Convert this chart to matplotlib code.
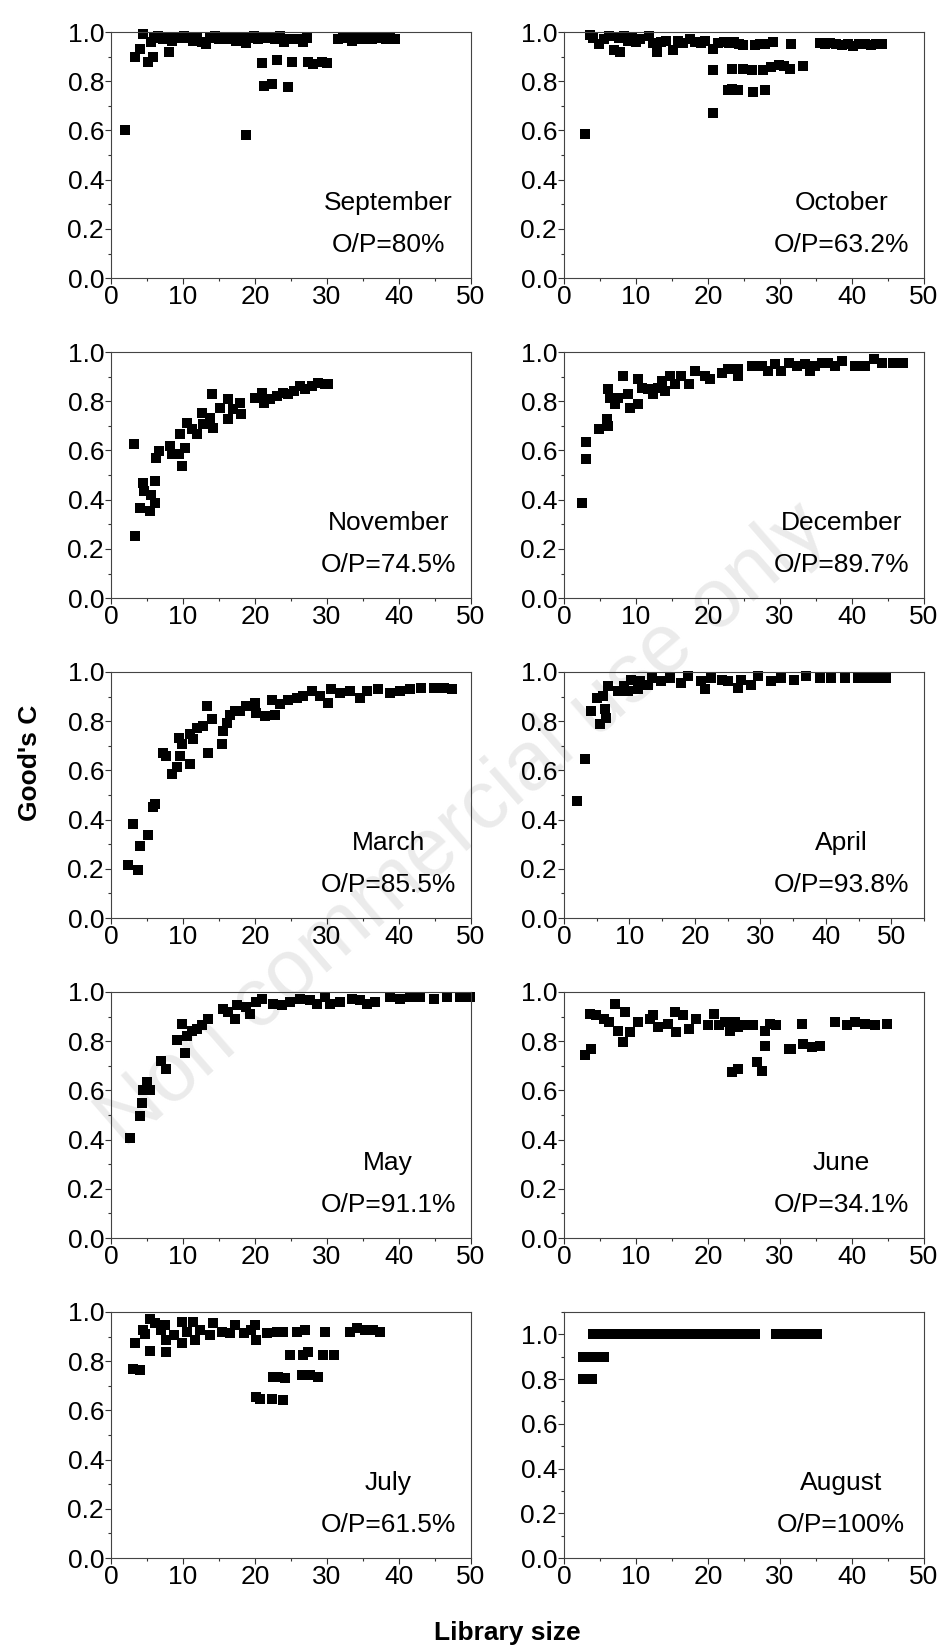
import matplotlib.pyplot as plt
from matplotlib.ticker import MultipleLocator, FormatStrFormatter

plt.rcParams['font.family'] = ['Liberation Sans', 'DejaVu Sans']

# panel order: row by row, left then right
months = ["September", "October", "November", "December", "March",
          "April", "May", "June", "July", "August"]
op_ratio = ["O/P=80%", "O/P=63.2%", "O/P=74.5%", "O/P=89.7%", "O/P=85.5%",
            "O/P=93.8%", "O/P=91.1%", "O/P=34.1%", "O/P=61.5%", "O/P=100%"]

september = [(1.9, 0.60), (3.3, 0.898), (4.0, 0.93), (4.5, 0.99), (5.2, 0.88), (5.8, 0.90),
             (5.5, 0.96), (8.0, 0.92), (18.7, 0.58), (18.7, 0.955), (20.9, 0.874), (21.2, 0.78),
             (22.3, 0.79), (23.0, 0.888), (24.6, 0.776), (25.2, 0.88), (27.4, 0.88), (28.1, 0.872),
             (29.3, 0.88), (30.0, 0.874), (6.0, 0.975), (6.5, 0.985), (7.2, 0.97), (7.8, 0.98),
             (8.5, 0.965), (9.0, 0.98), (9.6, 0.975), (10.2, 0.985), (10.8, 0.975), (11.4, 0.965),
             (12.0, 0.98), (12.6, 0.96), (13.2, 0.95), (13.8, 0.975), (14.4, 0.985), (15.0, 0.97),
             (15.6, 0.98), (16.2, 0.97), (16.8, 0.975), (17.4, 0.965), (18.0, 0.98), (19.2, 0.975),
             (19.8, 0.985), (20.4, 0.97), (21.0, 0.975), (21.6, 0.98), (22.2, 0.975), (22.8, 0.97),
             (23.4, 0.985), (24.0, 0.96), (24.6, 0.97), (26.0, 0.97), (26.6, 0.96), (27.2, 0.975),
             (31.5, 0.97), (32.2, 0.98), (32.8, 0.975), (33.5, 0.965), (34.2, 0.975), (34.8, 0.97),
             (35.5, 0.975), (36.2, 0.97), (36.8, 0.975), (37.5, 0.98), (38.2, 0.97), (38.8, 0.975),
             (39.4, 0.97)]

october = [(2.9, 0.584), (3.6, 0.986), (4.1, 0.975), (4.8, 0.95), (5.5, 0.97), (6.2, 0.985),
           (6.9, 0.926), (7.8, 0.92), (7.6, 0.975), (8.4, 0.985), (8.9, 0.965), (9.5, 0.975),
           (10.0, 0.96), (10.6, 0.97), (11.8, 0.985), (12.3, 0.955), (12.9, 0.92), (13.5, 0.96),
           (14.2, 0.965), (15.2, 0.926), (15.9, 0.965), (16.6, 0.955), (17.5, 0.973), (18.2, 0.96),
           (19.0, 0.955), (19.6, 0.962), (20.7, 0.93), (21.4, 0.955), (22.2, 0.96), (22.9, 0.955),
           (23.6, 0.958), (24.3, 0.95), (24.9, 0.946), (26.5, 0.946), (27.2, 0.95), (27.9, 0.95),
           (29.1, 0.96), (31.6, 0.953), (35.6, 0.955), (36.3, 0.95), (37.0, 0.955), (37.8, 0.95),
           (38.6, 0.948), (39.4, 0.95), (40.2, 0.945), (41.0, 0.95), (41.8, 0.952), (42.6, 0.948),
           (43.4, 0.952), (44.2, 0.95), (20.7, 0.847), (20.7, 0.672), (23.3, 0.85), (24.9, 0.85),
           (26.1, 0.845), (27.7, 0.845), (28.8, 0.858), (29.8, 0.865), (30.5, 0.86), (31.4, 0.85),
           (33.2, 0.86), (22.8, 0.764), (23.4, 0.77), (24.2, 0.764), (26.3, 0.757), (27.9, 0.764)]

november = [(3.2, 0.625), (3.3, 0.252), (4.5, 0.469), (4.6, 0.435), (4.0, 0.367), (5.4, 0.354),
            (5.6, 0.421), (6.1, 0.476), (6.1, 0.388), (6.3, 0.57), (6.6, 0.598), (8.2, 0.618),
            (8.4, 0.584), (9.4, 0.584), (9.6, 0.665), (9.8, 0.537), (10.3, 0.611), (10.5, 0.713),
            (11.2, 0.686), (11.9, 0.665), (12.6, 0.753), (12.8, 0.706), (14.0, 0.828), (14.2, 0.692),
            (13.8, 0.733), (15.1, 0.774), (16.3, 0.808), (16.3, 0.726), (17.0, 0.767), (17.9, 0.794),
            (18.1, 0.747), (20.0, 0.814), (20.9, 0.835), (21.2, 0.794), (22.1, 0.808), (23.0, 0.821),
            (23.9, 0.835), (24.6, 0.828), (25.4, 0.84), (26.3, 0.862), (27.0, 0.848), (27.9, 0.862),
            (28.8, 0.875), (29.7, 0.871), (30.2, 0.869)]

december = [(2.45, 0.388), (3.1, 0.564), (3.1, 0.634), (4.9, 0.686), (6.1, 0.70), (6.0, 0.726),
            (6.1, 0.848), (6.4, 0.814), (7.1, 0.787), (7.5, 0.814), (8.2, 0.902), (8.9, 0.828),
            (9.2, 0.774), (10.3, 0.787), (10.3, 0.889), (10.8, 0.855), (11.7, 0.848), (12.4, 0.828),
            (13.1, 0.855), (13.6, 0.882), (14.0, 0.841), (14.7, 0.902), (15.4, 0.868), (16.3, 0.902),
            (17.3, 0.868), (18.2, 0.923), (19.6, 0.902), (20.3, 0.889), (21.9, 0.916), (22.8, 0.93),
            (24.2, 0.902), (24.2, 0.93), (26.1, 0.943), (27.5, 0.943), (28.4, 0.923), (29.3, 0.95),
            (30.2, 0.923), (31.2, 0.957), (32.3, 0.943), (33.5, 0.95), (34.2, 0.923), (34.9, 0.943),
            (35.8, 0.957), (36.7, 0.957), (37.6, 0.943), (38.6, 0.963), (40.4, 0.943), (41.8, 0.943),
            (43.0, 0.97), (44.1, 0.957), (45.7, 0.957), (47.1, 0.957)]

march = [(2.4, 0.214), (3.8, 0.194), (3.1, 0.383), (4.0, 0.291), (5.2, 0.336), (5.9, 0.45),
         (6.1, 0.464), (7.2, 0.672), (7.7, 0.659), (8.4, 0.585), (9.1, 0.612), (9.4, 0.733),
         (9.6, 0.659), (9.8, 0.706), (11.0, 0.625), (11.0, 0.747), (11.4, 0.726), (11.9, 0.774),
         (12.8, 0.78), (13.3, 0.861), (13.5, 0.672), (14.0, 0.807), (15.4, 0.706), (15.6, 0.76),
         (16.1, 0.794), (16.5, 0.827), (17.2, 0.841), (17.9, 0.841), (18.8, 0.861), (20.0, 0.875),
         (20.2, 0.834), (21.4, 0.821), (22.3, 0.888), (22.8, 0.827), (23.5, 0.868), (24.6, 0.888),
         (25.8, 0.895), (26.7, 0.902), (27.9, 0.922), (29.0, 0.902), (30.2, 0.875), (30.6, 0.929),
         (31.8, 0.915), (33.2, 0.922), (34.6, 0.895), (35.5, 0.922), (37.1, 0.929), (38.8, 0.915),
         (40.1, 0.922), (41.5, 0.929), (43.1, 0.935), (44.8, 0.935), (46.2, 0.935), (47.3, 0.929)]

april = [(1.93, 0.474), (3.2, 0.646), (4.2, 0.841), (5.0, 0.895), (5.5, 0.787), (6.0, 0.902),
         (6.3, 0.848), (6.5, 0.814), (6.8, 0.942), (8.3, 0.922), (9.1, 0.942), (9.8, 0.922),
         (10.3, 0.969), (11.3, 0.929), (11.6, 0.962), (12.9, 0.949), (13.4, 0.976), (14.9, 0.962),
         (16.2, 0.976), (17.9, 0.956), (19.0, 0.982), (21.5, 0.929), (21.0, 0.962), (22.5, 0.976),
         (24.1, 0.969), (25.1, 0.962), (26.6, 0.935), (27.1, 0.969), (28.6, 0.949), (29.7, 0.982),
         (31.7, 0.962), (33.2, 0.976), (35.2, 0.969), (37.0, 0.982), (39.1, 0.976), (40.8, 0.976),
         (42.9, 0.976), (44.9, 0.976), (46.4, 0.976), (48.0, 0.976), (49.2, 0.976)]

may = [(2.6, 0.407), (4.0, 0.496), (4.3, 0.55), (4.5, 0.60), (5.0, 0.634), (5.4, 0.60),
       (7.0, 0.72), (7.7, 0.686), (9.1, 0.805), (10.3, 0.75), (9.8, 0.87), (10.5, 0.823),
       (11.2, 0.843), (11.9, 0.85), (12.6, 0.864), (13.5, 0.891), (15.6, 0.932), (16.3, 0.918),
       (17.2, 0.891), (17.5, 0.946), (18.8, 0.939), (19.3, 0.911), (20.2, 0.959), (20.9, 0.973),
       (22.5, 0.952), (23.7, 0.946), (24.9, 0.959), (26.3, 0.973), (27.6, 0.966), (28.6, 0.952),
       (29.7, 0.98), (30.4, 0.952), (31.8, 0.959), (33.4, 0.973), (34.6, 0.966), (35.5, 0.952),
       (36.7, 0.959), (38.8, 0.98), (40.1, 0.973), (41.5, 0.98), (42.9, 0.98), (44.8, 0.973),
       (46.6, 0.98), (48.5, 0.98), (49.9, 0.98)]

june = [(2.9, 0.744), (3.75, 0.768), (3.6, 0.911), (4.5, 0.905), (5.5, 0.891), (6.2, 0.877),
        (7.1, 0.952), (7.5, 0.843), (8.2, 0.796), (8.5, 0.918), (9.2, 0.837), (10.3, 0.877),
        (11.9, 0.891), (12.4, 0.905), (13.1, 0.857), (14.5, 0.87), (15.4, 0.918), (15.6, 0.837),
        (16.6, 0.905), (17.3, 0.85), (18.4, 0.891), (20.0, 0.864), (20.9, 0.911), (21.6, 0.864),
        (22.4, 0.877), (23.1, 0.843), (23.8, 0.877), (24.2, 0.857), (23.3, 0.673), (24.2, 0.687),
        (25.1, 0.864), (26.3, 0.864), (26.8, 0.714), (27.5, 0.68), (27.9, 0.843), (27.9, 0.782),
        (28.6, 0.87), (29.5, 0.864), (31.2, 0.768), (31.6, 0.768), (33.0, 0.87), (33.2, 0.789),
        (34.4, 0.775), (35.6, 0.782), (37.6, 0.877), (39.3, 0.864), (40.4, 0.877), (41.8, 0.87),
        (43.2, 0.864), (44.8, 0.87)]

july = [(3.0, 0.77), (4.0, 0.763), (3.3, 0.874), (4.5, 0.926), (4.7, 0.91), (5.4, 0.973),
        (5.4, 0.84), (6.1, 0.953), (7.0, 0.926), (7.5, 0.946), (7.6, 0.838), (7.7, 0.885),
        (8.7, 0.906), (9.8, 0.872), (9.8, 0.96), (10.5, 0.919), (11.4, 0.96), (11.6, 0.885),
        (12.4, 0.926), (13.8, 0.906), (14.2, 0.953), (15.4, 0.919), (16.5, 0.913), (17.2, 0.946),
        (18.4, 0.913), (19.5, 0.926), (20.0, 0.946), (20.2, 0.885), (20.2, 0.655), (20.7, 0.648),
        (22.3, 0.648), (22.5, 0.736), (23.2, 0.736), (23.9, 0.641), (24.1, 0.73), (21.6, 0.913),
        (23.0, 0.919), (23.9, 0.919), (24.9, 0.825), (25.8, 0.919), (26.5, 0.743), (26.7, 0.825),
        (27.0, 0.926), (27.4, 0.838), (27.6, 0.743), (28.8, 0.736), (29.7, 0.919), (29.5, 0.825),
        (30.9, 0.825), (33.2, 0.919), (34.1, 0.933), (35.3, 0.926), (36.4, 0.926), (37.4, 0.919)]

august = [(4, 1.0), (5, 1.0), (6, 1.0), (7, 1.0), (8, 1.0), (9, 1.0), (10, 1.0), (11, 1.0),
          (12, 1.0), (13, 1.0), (14, 1.0), (15, 1.0), (16, 1.0), (17, 1.0), (18, 1.0), (19, 1.0),
          (20, 1.0), (21, 1.0), (22, 1.0), (23, 1.0), (24, 1.0), (25, 1.0), (26, 1.0), (26.5, 1.0),
          (29.4, 1.0), (30.4, 1.0), (31.4, 1.0), (32.4, 1.0), (33.4, 1.0), (34.4, 1.0), (35.1, 1.0),
          (2.6, 0.9), (3.6, 0.9), (4.6, 0.9), (5.6, 0.9),
          (2.7, 0.8), (3.3, 0.8), (3.9, 0.8)]

panels = [september, october, november, december, march,
          april, may, june, july, august]

fig, axes = plt.subplots(5, 2, figsize=(9.44, 16.51), dpi=100)
fig.subplots_adjust(left=0.1176, right=0.9788, top=0.9806, bottom=0.0563,
                    wspace=0.258, hspace=0.30)

for idx, ax in enumerate(axes.flat):
    pts = panels[idx]
    xs = [p[0] for p in pts]
    ys = [p[1] for p in pts]
    ax.plot(xs, ys, 's', color='black', markersize=6.8, linestyle='none',
            markeredgewidth=0, clip_on=False)

    ax.set_facecolor('none')
    ax.set_xlim(0, 55 if months[idx] == "April" else 50)
    ax.set_ylim(0, 1.1 if months[idx] == "August" else 1.0)
    ax.xaxis.set_major_locator(MultipleLocator(10))
    ax.xaxis.set_minor_locator(MultipleLocator(5))
    ax.yaxis.set_major_locator(MultipleLocator(0.2))
    ax.yaxis.set_minor_locator(MultipleLocator(0.1))
    ax.yaxis.set_major_formatter(FormatStrFormatter('%.1f'))
    if months[idx] == "April":
        ax.set_xticks([0, 10, 20, 30, 40, 50])
    ax.tick_params(which='major', direction='out', length=4, width=0.8,
                   labelsize=19, pad=1, color='#333333')
    ax.tick_params(which='minor', direction='out', length=2.5, width=0.8,
                   color='#333333')
    for sp in ax.spines.values():
        sp.set_linewidth(0.8)
        sp.set_color('#444444')

    ax.text(0.77, 0.275, months[idx], transform=ax.transAxes, ha='center',
            va='baseline', fontsize=19)
    ax.text(0.77, 0.105, op_ratio[idx], transform=ax.transAxes, ha='center',
            va='baseline', fontsize=19)

fig.text(0.032, 0.538, "Good's C", rotation=90, ha='center', va='center',
         fontsize=19, fontweight='bold')
fig.text(0.537, 0.011, "Library size", ha='center', va='center',
         fontsize=19, fontweight='bold')

# faint publisher watermark
fig.text(0.49, 0.50, "Non commercial use only", rotation=41, ha='center', va='center',
         fontsize=60, color='#ebebeb', zorder=-1)

fig.savefig('out.png', dpi=100)
